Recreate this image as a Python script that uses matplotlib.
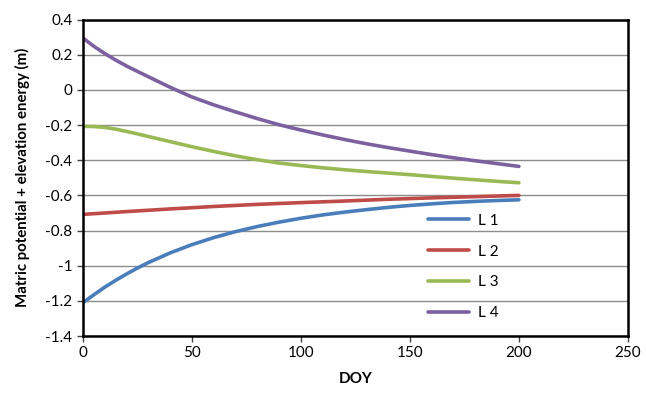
import matplotlib
matplotlib.use("Agg")
import matplotlib.pyplot as plt
from matplotlib.ticker import FuncFormatter

plt.rcParams['font.family'] = ['Lato', 'DejaVu Sans']

# Data
x_l1 = [0, 5, 10, 15, 20, 25, 30, 40, 50, 60, 70, 80, 90, 100, 110, 120, 130, 140, 150, 160, 170, 180, 190, 200]
y_l1 = [-1.21, -1.165, -1.122, -1.083, -1.047, -1.013, -0.982, -0.927, -0.88, -0.84, -0.806, -0.777,
        -0.752, -0.73, -0.711, -0.695, -0.681, -0.668, -0.657, -0.648, -0.64, -0.634, -0.629, -0.625]

x_l2 = [0, 20, 40, 60, 80, 100, 120, 140, 160, 180, 200]
y_l2 = [-0.708, -0.692, -0.677, -0.663, -0.651, -0.641, -0.632, -0.622, -0.614, -0.607, -0.60]

x_l3 = [0, 5, 10, 15, 20, 25, 30, 40, 50, 60, 70, 80, 90, 100, 110, 120, 130, 140, 150, 160, 170, 180, 190, 200]
y_l3 = [-0.207, -0.208, -0.213, -0.223, -0.236, -0.25, -0.265, -0.294, -0.323, -0.35, -0.375, -0.397,
        -0.416, -0.43, -0.443, -0.454, -0.464, -0.473, -0.482, -0.492, -0.502, -0.511, -0.52, -0.528]

x_l4 = [0, 5, 10, 15, 20, 30, 40, 50, 60, 70, 80, 90, 100, 110, 120, 130, 140, 150, 160, 170, 180, 190, 200]
y_l4 = [0.295, 0.248, 0.207, 0.17, 0.136, 0.075, 0.015, -0.04, -0.085, -0.125, -0.163, -0.198,
        -0.228, -0.256, -0.282, -0.306, -0.328, -0.348, -0.368, -0.386, -0.403, -0.419, -0.435]

labels = ["L 1", "L 2", "L 3", "L 4"]
colors = ["#4A7EBB", "#BE4B48", "#98B954", "#7D60A0"]

fig = plt.figure(figsize=(6.46, 3.93), dpi=100)
ax = fig.add_axes([0.1285, 0.145, 0.8435, 0.805])

series = [(x_l1, y_l1), (x_l2, y_l2), (x_l3, y_l3), (x_l4, y_l4)]
for (xs, ys), lab, c in zip(series, labels, colors):
    ax.plot(xs, ys, color=c, lw=2.6, label=lab, solid_capstyle='round', solid_joinstyle='round')

ax.set_xlim(0, 250)
ax.set_ylim(-1.4, 0.4)
ax.set_xticks([0, 50, 100, 150, 200, 250])
yt = [-1.4, -1.2, -1.0, -0.8, -0.6, -0.4, -0.2, 0, 0.2, 0.4]
ax.set_yticks(yt)

def yfmt(v, pos):
    s = f"{v:.1f}"
    if s in ("0.0", "-0.0"):
        return "0"
    if s == "-1.0":
        return "-1"
    return s

ax.yaxis.set_major_formatter(FuncFormatter(yfmt))
ax.grid(axis='y', color='#8C8C8C', lw=1.0)
ax.set_axisbelow(True)
for sp in ax.spines.values():
    sp.set_linewidth(1.8)
    sp.set_color('black')
ax.tick_params(axis='both', direction='out', length=4, width=1, labelsize=11, colors='#444444', labelcolor='black')

ax.set_xlabel("DOY", fontsize=11, fontweight='bold', labelpad=8)
ax.set_ylabel("Matric potential + elevation energy (m)", fontsize=10.8, fontweight='bold', labelpad=11)

leg = ax.legend(loc='upper left', bbox_to_anchor=(0.607, 0.43), frameon=False, fontsize=11,
                handlelength=2.7, labelspacing=1.1, handletextpad=0.6)

fig.savefig("out.png", dpi=100)
